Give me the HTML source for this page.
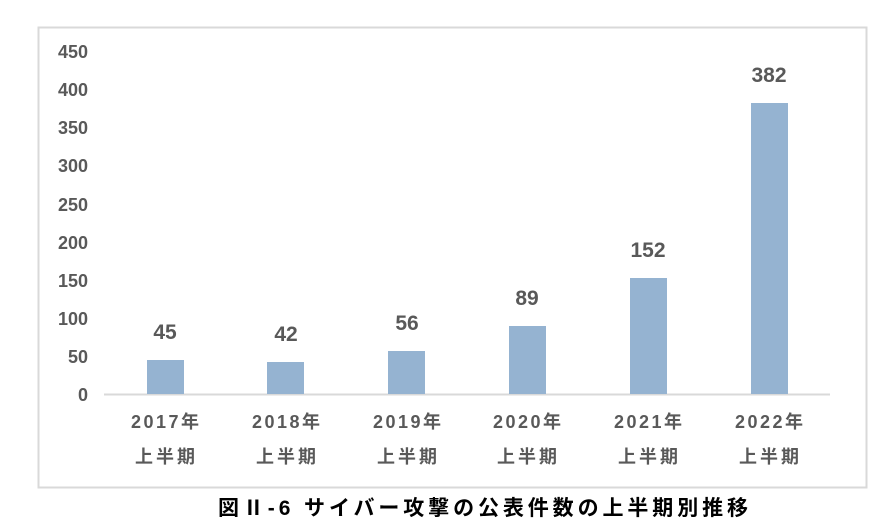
<!DOCTYPE html><html><head><meta charset="utf-8"><style>
body{margin:0;width:874px;height:526px;background:#fff;overflow:hidden}
</style></head><body>
<svg width="874" height="526" xmlns="http://www.w3.org/2000/svg" style="position:absolute;left:0;top:0">
<rect x="38.5" y="27.5" width="828" height="460" fill="#fff" stroke="#d9d9d9" stroke-width="2"/>
<g font-family="Liberation Sans, Noto Sans CJK JP, sans-serif" font-weight="bold" font-size="18" fill="#595959" text-anchor="end">
<text x="88" y="401">0</text><text x="88" y="363">50</text><text x="88" y="325">100</text><text x="88" y="287">150</text>
<text x="88" y="249">200</text><text x="88" y="211">250</text><text x="88" y="172">300</text><text x="88" y="134">350</text>
<text x="88" y="96">400</text><text x="88" y="58">450</text>
</g>
<line x1="104" y1="394.5" x2="830" y2="394.5" stroke="#d9d9d9" stroke-width="2"/>
<g fill="#95b3d1">
<rect x="147" y="360" width="37" height="34"/>
<rect x="267" y="362" width="37" height="32"/>
<rect x="388" y="351" width="37" height="43"/>
<rect x="509" y="326" width="37" height="68"/>
<rect x="630" y="278" width="37" height="116"/>
<rect x="751" y="103" width="37" height="291"/>
</g>
<g font-family="Liberation Sans, Noto Sans CJK JP, sans-serif" font-weight="bold" font-size="21" fill="#595959" text-anchor="middle">
<text x="165" y="339">45</text><text x="286" y="341">42</text><text x="407" y="330">56</text>
<text x="527" y="305">89</text><text x="648" y="257">152</text><text x="769" y="82">382</text>
</g>
<g font-family="Liberation Sans, Noto Sans CJK JP, sans-serif" font-weight="bold" font-size="18" fill="#595959" text-anchor="middle">
<text x="165" y="428" textLength="68">2017年</text><text x="286" y="428" textLength="68">2018年</text><text x="407" y="428" textLength="68">2019年</text>
<text x="527" y="428" textLength="68">2020年</text><text x="648" y="428" textLength="68">2021年</text><text x="769" y="428" textLength="68">2022年</text>
<text x="165" y="463" textLength="60">上半期</text><text x="286" y="463" textLength="60">上半期</text><text x="407" y="463" textLength="60">上半期</text>
<text x="527" y="463" textLength="60">上半期</text><text x="648" y="463" textLength="60">上半期</text><text x="769" y="463" textLength="60">上半期</text>
</g>
<text x="483" y="515" font-family="Liberation Sans, Noto Sans CJK JP, sans-serif" font-weight="bold" font-size="21" fill="#000" text-anchor="middle" textLength="530" lengthAdjust="spacing">図Ⅱ-6 サイバー攻撃の公表件数の上半期別推移</text>
</svg>
</body></html>
